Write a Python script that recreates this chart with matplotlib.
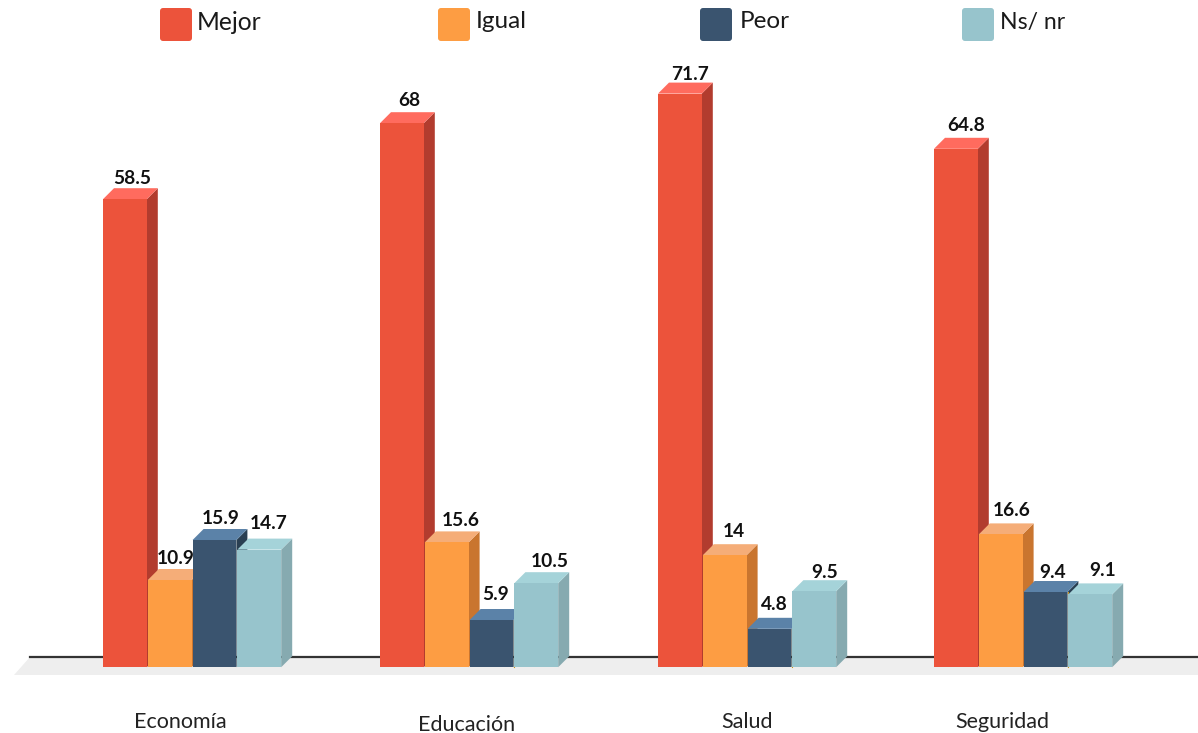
import matplotlib
matplotlib.use("Agg")
import matplotlib.pyplot as plt
from matplotlib.patches import Polygon, FancyBboxPatch
from matplotlib.transforms import Affine2D

categories = ["Economía", "Educación", "Salud", "Seguridad"]
series_names = ["Mejor", "Igual", "Peor", "Ns/ nr"]
mejor = [58.5, 68, 71.7, 64.8]
igual = [10.9, 15.6, 14, 16.6]
peor = [15.9, 5.9, 4.8, 9.4]
nsnr = [14.7, 10.5, 9.5, 9.1]
value_labels = [["58.5", "68", "71.7", "64.8"], ["10.9", "15.6", "14", "16.6"],
                ["15.9", "5.9", "4.8", "9.4"], ["14.7", "10.5", "9.5", "9.1"]]

front = ["#EC533B", "#FD9D43", "#3A546F", "#97C4CC"]
side = ["#B23C2E", "#C9752F", "#2A3F52", "#86AAB0"]
top = ["#FF6B5E", "#F5AD78", "#5B82A8", "#A5D3D9"]

# label nudges in pixels (right, down), series by group
nudges = [[(0, 3), (0, 1), (4, 5), (3, 1)],
          [(-1, 3), (7, 2), (3, 0), (4, 0)],
          [(-1, 3), (-3, -2), (-1, 0), (0, 4)],
          [(2, -2), (6, 2), (4, 5), (5, 0)]]

W, H = 1198, 733
fig = plt.figure(figsize=(W / 100, H / 100), dpi=100, facecolor="white")
ax = fig.add_axes([0, 0, 1, 1])
GROUP_PX, UNIT_PX, X0_PX, Y0_PX = 277.0, 8.0, 103.0, 667.2
ax.set_xlim(-X0_PX / GROUP_PX, (W - X0_PX) / GROUP_PX)
ax.set_ylim(-(H - Y0_PX) / UNIT_PX, Y0_PX / UNIT_PX)
ax.axis("off")
px = Affine2D().scale(1, -1).translate(0, H)
plt.rcParams["font.family"] = ["Lato", "DejaVu Sans"]

# floor and back line
ax.add_patch(Polygon([(14, 675), (30, 657), (W, 657), (W, 675)], closed=True,
                     transform=px, fc="#EEEEEE", ec="none", zorder=1))
ax.plot([30, W], [657, 657], transform=px, color="#333333", lw=1.6, zorder=2)

group_shift = [0, 0, 1 / GROUP_PX, 0]
bw = 43.8 / GROUP_PX
step = 44.8 / GROUP_PX
dx = 11 / GROUP_PX
dy = 11 / UNIT_PX
z = 3
for g in range(len(categories)):
    for s, vals in enumerate([mejor, igual, peor, nsnr]):
        v = vals[g]
        x0 = g + group_shift[g] + s * step
        x1 = x0 + bw
        ax.add_patch(Polygon([(x1, 0), (x1 + dx, dy), (x1 + dx, v + dy), (x1, v)], closed=True,
                             fc=side[s], ec="none", zorder=z))
        ax.add_patch(Polygon([(x0, v), (x0 + dx, v + dy), (x1 + dx, v + dy), (x1, v)], closed=True,
                             fc=top[s], ec="none", zorder=z))
        ax.bar(x0, v, width=bw, align="edge", color=front[s], linewidth=0, zorder=z + 0.1)
        if s == 2 and g > 0:
            ax.plot([x1 + 0.5 / GROUP_PX] * 2, [0, min(v, vals[g])], color="#C9961F", lw=0.8, zorder=z + 0.2)
        z += 1

for g in range(len(categories)):
    for s, vals in enumerate([mejor, igual, peor, nsnr]):
        nx, ny = nudges[s][g]
        ax.annotate(value_labels[s][g], xy=(g + s * step + bw / 2, vals[g]),
                    xytext=((7 + nx) * 0.72, (24 - ny) * 0.72), textcoords="offset points",
                    ha="center", va="center", fontsize=13.8, fontweight="bold",
                    color="#111111", zorder=100)

# category labels
cat_pos = [(180, 722), (467, 725), (747, 722), (1002, 722)]
for name, (x, y) in zip(categories, cat_pos):
    ax.text(x, y, name, transform=px, ha="center", va="center", fontsize=15.5, color="#222222")

# legend
legend_pos = [(160, 197, 23, 17.7), (438, 476, 21, 17.5), (700, 740, 21, 17.5), (962, 1000, 23, 16.6)]
for name, c, (sx, tx, ty, fs) in zip(series_names, front, legend_pos):
    ax.add_patch(FancyBboxPatch((sx + 2, 10), 28, 29, boxstyle="round,pad=2,rounding_size=3",
                                transform=px, fc=c, ec="none", zorder=5))
    ax.text(tx, ty, name, transform=px, ha="left", va="center", fontsize=fs, color="#1A1A1A")

fig.savefig("out.png", dpi=100)
